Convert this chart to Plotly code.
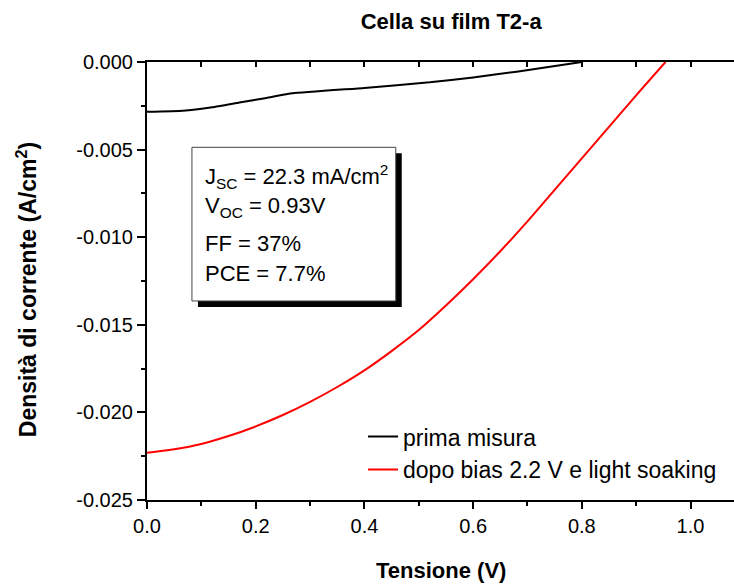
import plotly.graph_objects as go

# Data
v_prima = [0.0, 0.066, 0.12, 0.17, 0.22, 0.268, 0.4, 0.52, 0.6, 0.68, 0.8]
j_prima = [-0.00284, -0.00278, -0.00258, -0.00231, -0.00205, -0.00179, -0.00148, -0.00116, -0.00088, -0.00055, 0.0]

v_dopo = [0.0, 0.05, 0.1, 0.15, 0.2, 0.25, 0.3, 0.35, 0.4, 0.45, 0.5, 0.55, 0.6, 0.65, 0.7, 0.75, 0.8, 0.85, 0.9, 0.954]
j_dopo = [-0.0223, -0.0221, -0.0218, -0.02135, -0.0208, -0.02015, -0.0194, -0.01855, -0.0176, -0.0165, -0.0153,
          -0.0139, -0.0124, -0.0108, -0.0091, -0.0073, -0.0055, -0.0037, -0.0019, 0.0]

series_names = ["prima misura", "dopo bias 2.2 V e light soaking"]
series_colors = ["black", "red"]

x_ticks = [0.0, 0.2, 0.4, 0.6, 0.8, 1.0]
x_ticklabels = ["0.0", "0.2", "0.4", "0.6", "0.8", "1.0"]
y_ticks = [0.0, -0.005, -0.010, -0.015, -0.020, -0.025]
y_ticklabels = ["0.000", "-0.005", "-0.010", "-0.015", "-0.020", "-0.025"]

box_lines = ["J<sub>SC</sub> = 22.3 mA/cm<sup>2</sup>", "V<sub>OC</sub> = 0.93V", "FF = 37%", "PCE = 7.7%"]
box_line_y = [-0.00655, -0.00828, -0.01036, -0.01207]

FONT = "Liberation Sans, Arial, sans-serif"

fig = go.Figure()
fig.add_trace(go.Scatter(x=v_prima, y=j_prima, mode="lines", name=series_names[0],
                         line=dict(color=series_colors[0], width=2, shape="spline", smoothing=0.4)))
fig.add_trace(go.Scatter(x=v_dopo, y=j_dopo, mode="lines", name=series_names[1],
                         line=dict(color=series_colors[1], width=2, shape="spline", smoothing=1.0)))
# invisible trace for top axis
fig.add_trace(go.Scatter(x=[0], y=[0], xaxis="x2", mode="markers", marker=dict(opacity=0),
                         showlegend=False, hoverinfo="skip"))

# text box with shadow
bx0, bx1, by0, by1 = 0.0827, 0.4577, -0.01364, -0.00487
dx, dy = 0.011, -0.00034
fig.add_shape(type="rect", x0=bx0 + dx, x1=bx1 + dx, y0=by0 + dy, y1=by1 + dy, xref="x", yref="y",
              fillcolor="black", line=dict(color="black", width=0), layer="above")
fig.add_shape(type="rect", x0=bx0, x1=bx1, y0=by0, y1=by1, xref="x", yref="y",
              fillcolor="white", line=dict(color="#444", width=1), layer="above")
for txt, yy in zip(box_lines, box_line_y):
    fig.add_annotation(x=0.1029, y=yy, xref="x", yref="y", text=txt, showarrow=False,
                       xanchor="left", yanchor="middle", font=dict(family=FONT, size=22, color="black"))

# axis titles
fig.add_annotation(x=-0.2044, y=0.479, xref="paper", yref="paper", textangle=-90, showarrow=False,
                   text="<b>Densità di corrente (A/cm<sup>2</sup>)</b>", xanchor="center", yanchor="middle",
                   font=dict(family=FONT, size=23, color="black"))
fig.add_annotation(x=0.5, y=-0.162, xref="paper", yref="paper", showarrow=False,
                   text="<b>Tensione (V)</b>", xanchor="center", yanchor="middle",
                   font=dict(family=FONT, size=22, color="black"))

fig.update_layout(
    width=734, height=585,
    margin=dict(l=147, r=0, t=62, b=85),
    paper_bgcolor="white", plot_bgcolor="white",
    font=dict(family=FONT, color="black"),
    title=dict(text="<b>Cella su film T2-a</b>", x=0.5182, xref="paper", xanchor="center",
               y=1 - 21 / 585, yref="container", yanchor="middle", font=dict(size=22, family=FONT)),
    showlegend=True,
    legend=dict(x=0.368, y=0.107, xanchor="left", yanchor="middle", bgcolor="rgba(0,0,0,0)",
                font=dict(size=23, family=FONT), tracegroupgap=0),
    xaxis=dict(range=[0, 1.08], tickmode="array", tickvals=x_ticks, ticktext=x_ticklabels,
               ticks="outside", ticklen=7, tickwidth=2, tickcolor="black",
               showline=True, linewidth=2, linecolor="black", showgrid=False, zeroline=False,
               tickfont=dict(size=20), minor=dict(dtick=0.1, ticks="outside", ticklen=4, tickwidth=2, tickcolor="black")),
    xaxis2=dict(range=[0, 1.08], overlaying="x", side="top", anchor="y", tickmode="linear", tick0=0, dtick=0.1,
                ticks="inside", ticklen=5, tickwidth=2, tickcolor="black", showticklabels=False,
                showline=True, linewidth=2, linecolor="black", showgrid=False, zeroline=False),
    yaxis=dict(range=[-0.025, 0], tickmode="array", tickvals=y_ticks, ticktext=y_ticklabels,
               ticks="outside", ticklen=8, tickwidth=2, tickcolor="black",
               showline=True, linewidth=2, linecolor="black", showgrid=False, zeroline=False,
               tickfont=dict(size=20), minor=dict(dtick=0.0025, tick0=0, ticks="outside", ticklen=4, tickwidth=2, tickcolor="black")),
)

fig.write_html("out.html")
